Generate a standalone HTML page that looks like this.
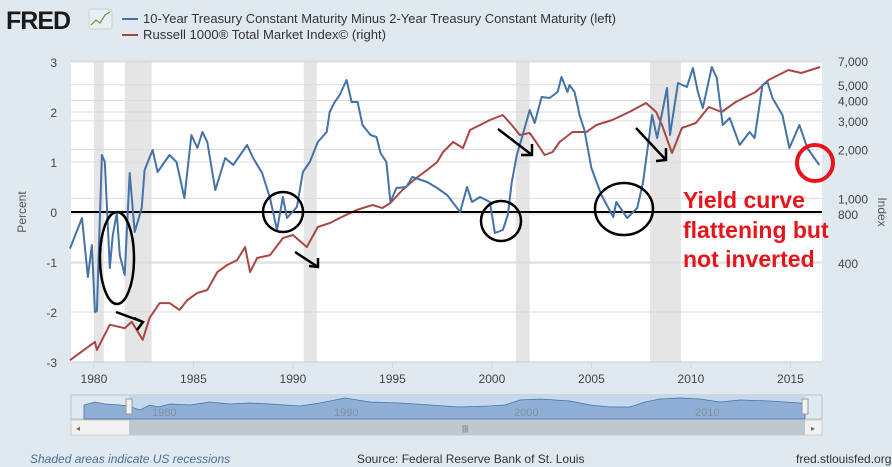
<!DOCTYPE html>
<html><head><meta charset="utf-8"><style>
body{margin:0;width:892px;height:467px;background:#e1e9f0;overflow:hidden;font-family:"Liberation Sans",sans-serif;}
svg{position:absolute;left:0;top:0;}
</style></head><body>
<svg id="chart" width="892" height="467">
<g id="header">
<text x="6" y="29" font-size="25" font-weight="bold" fill="#1a1a1a" letter-spacing="-1">FRED</text>
<rect x="89" y="9" width="23" height="20" rx="2" fill="#e8eef2" stroke="#c8d0d8"/>
<polyline points="91,25 96,20 100,23 105,15 110,12" fill="none" stroke="#5a9a3a" stroke-width="1.2"/>
<line x1="122" y1="19" x2="138" y2="19" stroke="#4572a7" stroke-width="2"/>
<text x="143" y="23" font-size="13" fill="#333" textLength="473" lengthAdjust="spacingAndGlyphs">10-Year Treasury Constant Maturity Minus 2-Year Treasury Constant Maturity (left)</text>
<line x1="122" y1="35" x2="138" y2="35" stroke="#aa4643" stroke-width="2"/>
<text x="143" y="39" font-size="13" fill="#333" textLength="243" lengthAdjust="spacingAndGlyphs">Russell 1000® Total Market Index© (right)</text>
</g>
<rect x="71" y="62" width="751" height="300" fill="#fff"/>
<g id="recessions"></g>
<g id="grid"></g>
<g id="axes"></g>
<g id="series"></g>
<g id="annotations">
<ellipse cx="117" cy="258" rx="17" ry="46" fill="none" stroke="#000" stroke-width="2.5"/>
<circle cx="283" cy="212" r="20" fill="none" stroke="#000" stroke-width="2.5"/>
<circle cx="501" cy="221" r="20" fill="none" stroke="#000" stroke-width="2.5"/>
<ellipse cx="624" cy="209" rx="29" ry="26" fill="none" stroke="#000" stroke-width="2.5"/>
<circle cx="815" cy="163" r="18" fill="none" stroke="#e8141c" stroke-width="4"/>
<g stroke="#000" stroke-width="2.5" fill="none">
<path d="M116,312 L143,322 M134,318 L143,322 L137,330"/>
<path d="M295,252 L318,267 M309,266 L318,267 L318,258"/>
<path d="M498,129 L532,155 M532,144 L532,155 L521,155"/>
<path d="M636,128 L666,160 M666,148 L666,160 L656,161"/>
</g>
<g font-size="23" font-weight="bold" fill="#e8141c">
<text x="683" y="208">Yield curve</text>
<text x="683" y="238">flattening but</text>
<text x="683" y="267">not inverted</text>
</g>
</g>
<g id="navigator">
<rect x="71" y="395" width="751" height="24" fill="#e1e9f0" stroke="#b8c2cc"/>
<rect x="129" y="396" width="676" height="23" fill="#c5d8ee"/>
<path d="M84,419 L84,405 L95,402 L105,404 L120,405 L128,406 L140,410 L150,405 L158,407 L170,404 L190,405 L210,402 L230,404 L250,403 L270,404 L300,406 L320,403 L345,398 L370,402 L400,403 L430,405 L460,407 L490,406 L505,405 L520,400 L540,399 L570,401 L590,405 L610,407 L630,407 L645,402 L660,399 L680,398 L700,399 L720,402 L740,400 L770,401 L800,403 L805,405 L805,419 Z" fill="#8fafd6" stroke="#4572a7" stroke-width="0.8"/>
<g font-size="11" fill="#8090a0">
<text x="152" y="416">1980</text>
<text x="334" y="416">1990</text>
<text x="514" y="416">2000</text>
<text x="695" y="416">2010</text>
</g>
<rect x="126" y="399" width="6" height="15" fill="#f2f2f2" stroke="#999"/>
<rect x="802" y="399" width="6" height="15" fill="#f2f2f2" stroke="#999"/>
<rect x="71" y="420" width="751" height="15" fill="#f2f2f2" stroke="#ccc"/>
<rect x="129" y="420" width="676" height="15" fill="#bfc7cf"/>
<text x="462" y="431" font-size="8" fill="#666">|||</text>
<text x="76" y="431" font-size="8" fill="#666">◂</text>
<text x="811" y="431" font-size="8" fill="#666">▸</text>
</g>
<text x="30" y="463" font-size="12" font-style="italic" fill="#4a6e9a">Shaded areas indicate US recessions</text>
<text x="357" y="463" font-size="12" fill="#333">Source: Federal Reserve Bank of St. Louis</text>
<text x="796" y="463" font-size="12" fill="#333">fred.stlouisfed.org</text>
</svg>
<script>
const recStart=[1980.0,1981.55,1990.55,2001.2,2007.95];
const recEnd=[1980.5,1982.9,1991.2,2001.9,2009.5];
const leftTicks=[3,2,1,0,-1,-2,-3];
const rightTicks=[7000,5000,4000,3000,2000,1000,800,400];
const rightTickLabels=["7,000","5,000","4,000","3,000","2,000","1,000","800","400"];
const yearTicks=[1980,1985,1990,1995,2000,2005,2010,2015];
const spreadDates=[1978.8,1979.4,1979.7,1979.9,1980.05,1980.15,1980.4,1980.55,1980.8,1980.95,1981.15,1981.3,1981.55,1981.8,1982.05,1982.4,1982.55,1982.95,1983.2,1983.8,1984.15,1984.55,1984.9,1985.2,1985.45,1985.7,1986.1,1986.6,1987.0,1987.7,1988.0,1988.45,1988.85,1989.2,1989.5,1989.7,1990.2,1990.5,1990.85,1991.25,1991.7,1991.85,1992.1,1992.35,1992.7,1992.95,1993.25,1993.5,1993.9,1994.2,1994.4,1994.7,1994.9,1995.2,1995.7,1996.0,1996.75,1997.25,1997.75,1998.4,1998.75,1999.0,1999.4,1999.9,2000.15,2000.55,2000.8,2001.0,2001.25,2001.55,2001.9,2002.15,2002.5,2002.9,2003.3,2003.5,2003.8,2003.9,2004.15,2004.3,2004.4,2004.65,2005.0,2005.5,2006.1,2006.25,2006.8,2007.3,2007.6,2008.05,2008.3,2008.8,2008.95,2009.35,2009.8,2010.1,2010.35,2010.6,2011.05,2011.3,2011.6,2011.95,2012.45,2012.95,2013.2,2013.6,2013.85,2014.1,2014.6,2014.95,2015.45,2015.85,2016.2,2016.45];
const spreadValues=[-0.73,-0.12,-1.3,-0.66,-2.0,-1.98,1.14,1.0,-1.12,-0.46,-0.02,-0.86,-1.26,0.78,-0.4,0.08,0.84,1.24,0.8,1.14,1.0,0.28,1.54,1.28,1.6,1.4,0.44,1.08,0.94,1.34,1.08,0.78,0.28,-0.36,0.3,-0.12,0.1,0.8,1.0,1.4,1.6,2.0,2.2,2.34,2.64,2.2,2.2,1.74,1.54,1.5,1.18,1.0,0.2,0.48,0.5,0.7,0.6,0.48,0.34,0.0,0.5,0.2,0.3,0.2,-0.42,-0.36,-0.06,0.6,1.14,1.54,2.04,1.78,2.3,2.28,2.4,2.7,2.4,2.54,2.4,2.14,1.94,1.64,0.88,0.34,-0.1,0.2,-0.12,0.08,0.6,1.94,1.48,2.48,1.54,2.58,2.5,2.88,2.4,2.08,2.9,2.68,1.74,1.88,1.34,1.6,1.48,2.54,2.6,2.28,1.94,1.28,1.74,1.28,1.08,0.94];
const russellDates=[1978.8,1980.05,1980.15,1980.8,1981.55,1981.9,1982.45,1982.8,1983.3,1983.8,1984.3,1984.7,1985.2,1985.7,1986.2,1986.7,1987.2,1987.6,1987.85,1988.2,1988.85,1989.5,1990.0,1990.7,1991.25,1991.85,1992.35,1993.2,1994.0,1994.5,1994.9,1995.5,1996.2,1996.75,1997.25,1997.55,1998.05,1998.55,1998.9,1999.4,1999.9,2000.55,2001.0,2001.4,2001.9,2002.25,2002.65,2003.05,2003.4,2004.05,2004.75,2005.25,2006.05,2006.9,2007.75,2008.25,2008.55,2009.05,2009.55,2010.25,2010.9,2011.55,2012.25,2013.25,2013.9,2014.9,2015.55,2016.5];
const russellValues=[101,131,117,167,159,174,135,184,227,227,206,237,262,273,352,389,418,502,352,430,448,570,595,502,667,705,757,848,911,873,937,1126,1335,1495,1674,1929,2222,2042,2635,2828,3034,3257,2828,2454,2524,2192,1849,1929,2222,2561,2561,2828,3034,3400,3861,3400,2828,1902,2710,2909,3648,3400,3916,4513,5349,6160,5906,6430];
const NS='http://www.w3.org/2000/svg';
const L=71,R=822,T=62,B=362;
function xS(yr){return 93.9+(yr-1980)*19.9;}
function yL(v){return 212-v*50;}
function yR(v){return 61+70.6*Math.log(7000/v);}
function mk(tag,attrs,parent){const e=document.createElementNS(NS,tag);for(const k in attrs)e.setAttribute(k,attrs[k]);parent.appendChild(e);return e;}
const gRec=document.getElementById('recessions'),gGrid=document.getElementById('grid'),gAx=document.getElementById('axes'),gS=document.getElementById('series');
recStart.forEach((s,i)=>{const e=mk('rect',{x:xS(s),y:T,width:xS(recEnd[i])-xS(s),height:B-T,fill:'#e5e5e5'},gRec);

});
leftTicks.forEach(v=>{const g=mk('line',{x1:L,x2:R,y1:yL(v),y2:yL(v),stroke:'#dcdcdc','stroke-width':1},gGrid);


const t=mk('text',{x:57,y:yL(v)+5,'font-size':12,fill:'#444','text-anchor':'end'},gAx);t.textContent=v;

});
rightTicks.forEach((v,i)=>{const g=mk('line',{x1:L,x2:R,y1:yR(v),y2:yR(v),stroke:'#dcdcdc','stroke-width':1},gGrid);


const t=mk('text',{x:838,y:yR(v)+5,'font-size':12,fill:'#444'},gAx);t.textContent=rightTickLabels[i];

});
yearTicks.forEach(y=>{const l=mk('line',{x1:xS(y),x2:xS(y),y1:B,y2:B+6,stroke:'#ccd6eb'},gAx);


const t=mk('text',{x:xS(y),y:B+21,'font-size':12,fill:'#444','text-anchor':'middle'},gAx);t.textContent=y;

});
const xl=mk('line',{x1:L,x2:R,y1:B,y2:B,stroke:'#c0d0e0'},gAx);


const yt=mk('text',{x:26,y:212,'font-size':12,fill:'#555','text-anchor':'middle',transform:'rotate(-90 26 212)'},gAx);yt.textContent='Percent';


const yt2=mk('text',{x:878,y:212,'font-size':12,fill:'#555','text-anchor':'middle',transform:'rotate(90 878 212)'},gAx);yt2.textContent='Index';


const rp=mk('polyline',{points:russellDates.map((d,i)=>xS(d).toFixed(1)+','+yR(russellValues[i]).toFixed(1)).join(' '),fill:'none',stroke:'#aa4643','stroke-width':2,'stroke-linejoin':'round'},gS);


const zl=mk('line',{x1:L,x2:R,y1:yL(0),y2:yL(0),stroke:'#000','stroke-width':2},gS);


const bp=mk('polyline',{points:spreadDates.map((d,i)=>xS(d).toFixed(1)+','+yL(spreadValues[i]).toFixed(1)).join(' '),fill:'none',stroke:'#4572a7','stroke-width':2,'stroke-linejoin':'round'},gS);


</script>
</body></html>
